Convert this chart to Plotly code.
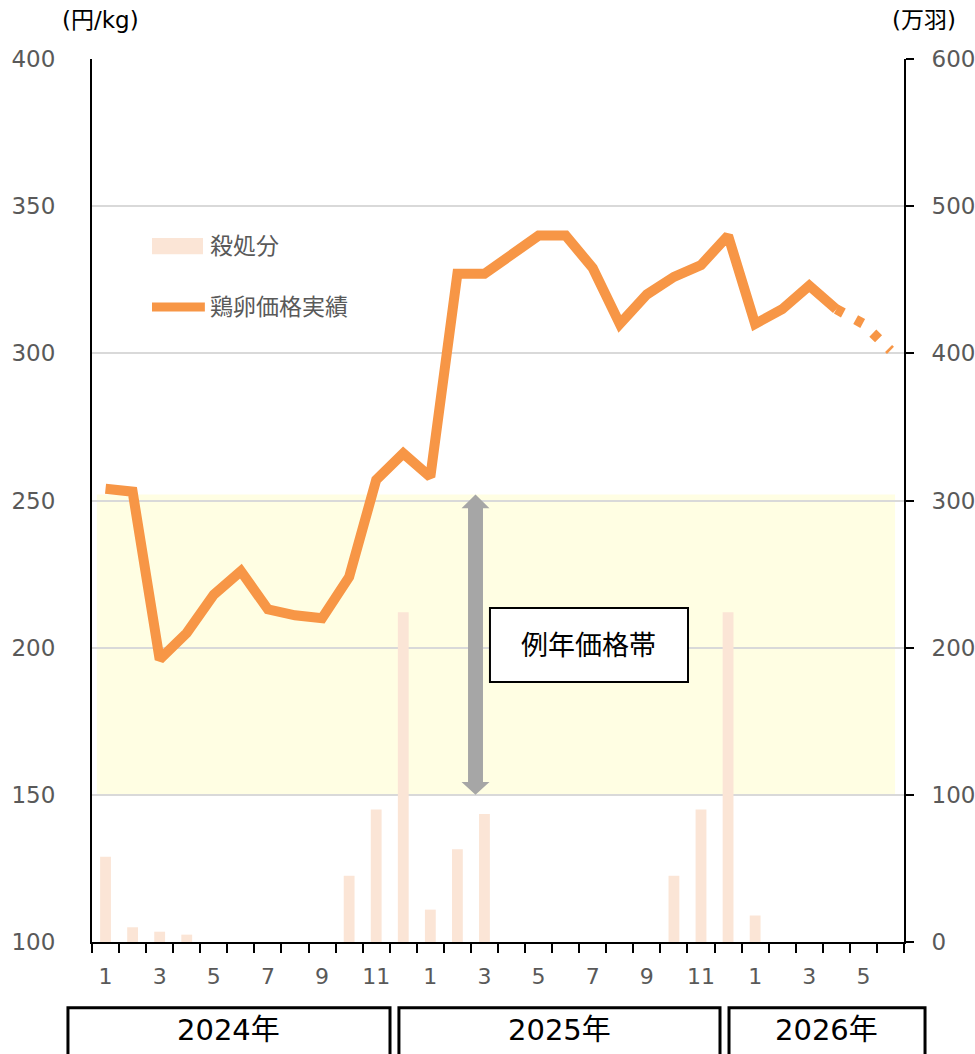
import plotly.graph_objects as go

# ---- data ----
months = [f"{y}/{m}" for y in (2024, 2025) for m in range(1, 13)] + [f"2026/{m}" for m in range(1, 7)]
month_labels = [m.split("/")[1] if int(m.split("/")[1]) % 2 == 1 else "" for m in months]

price_actual = [254, 253, 196, 205, 218, 226, 213, 211, 210, 224, 257, 266,
                258, 327, 327, 334, 340, 340, 329, 310, 320, 326, 330, 340,
                310, 315, 323, 315]
price_forecast_months = ["2026/4", "2026/5", "2026/6"]
price_forecast = [315, 310, 301]

culled = [58, 10, 7, 5, 0, 0, 0, 0, 0, 45, 90, 224,
          22, 63, 87, 0, 0, 0, 0, 0, 0, 45, 90, 224,
          18, 0, 0, 0, 0, 0]

band_low, band_high = 150, 252
years = ["2024年", "2025年", "2026年"]

ORANGE = "#F79646"
PEACH = "#FBE5D6"
GRAY_TXT = "#595959"
NUMFONT = "DejaVu Sans, Noto Sans CJK JP"
JPFONT = "DejaVu Sans, Noto Sans CJK JP"

fig = go.Figure()

fig.add_trace(go.Bar(
    x=months, y=culled, yaxis="y2", width=0.4,
    marker=dict(color=PEACH, line=dict(width=0)), name="殺処分", showlegend=False,
))
fig.add_trace(go.Scatter(
    x=months[:len(price_actual)], y=price_actual, mode="lines",
    line=dict(color=ORANGE, width=10), name="鶏卵価格実績", showlegend=False,
))
fig.add_trace(go.Scatter(
    x=price_forecast_months, y=price_forecast, mode="lines",
    line=dict(color=ORANGE, width=10, dash="8px,14px"), showlegend=False,
))

shapes = []
# yellow band
shapes.append(dict(type="rect", xref="paper", yref="y", x0=0.006, x1=0.989,
                   y0=band_low, y1=band_high, fillcolor="#FFFEE3",
                   line=dict(width=0), layer="below"))
# double arrow
cx, sw, hw = 0.4723, 0.0092, 0.0172
top_tip, top_base = band_high, 247.4
bot_tip, bot_base = band_low, 154.4
path = (f"M {cx},{top_tip} L {cx+hw},{top_base} L {cx+sw},{top_base} "
        f"L {cx+sw},{bot_base} L {cx+hw},{bot_base} L {cx},{bot_tip} "
        f"L {cx-hw},{bot_base} L {cx-sw},{bot_base} L {cx-sw},{top_base} "
        f"L {cx-hw},{top_base} Z")
shapes.append(dict(type="path", xref="paper", yref="y", path=path,
                   fillcolor="#A6A6A6", line=dict(width=0)))
# label box
shapes.append(dict(type="rect", xref="paper", yref="y", x0=0.4901, x1=0.734,
                   y0=188.3, y1=213.5, fillcolor="white",
                   line=dict(color="black", width=2)))
# legend markers
shapes.append(dict(type="rect", xref="paper", yref="y", x0=0.0739, x1=0.1367,
                   y0=333.7, y1=339.2, fillcolor=PEACH, line=dict(width=0)))
shapes.append(dict(type="line", xref="paper", yref="y", x0=0.0739, x1=0.139,
                   y0=315.7, y1=315.7, line=dict(color=ORANGE, width=9)))
# year boxes
for x0, x1 in [(-0.0296, 0.367), (0.378, 0.7734), (0.7845, 1.0259)]:
    shapes.append(dict(type="rect", xref="paper", yref="paper", x0=x0, x1=x1,
                       y0=-0.2, y1=-0.0745, line=dict(color="black", width=3)))

annotations = [
    dict(text="例年価格帯", xref="paper", yref="y", x=0.612, y=200.9,
         xanchor="center", yanchor="middle",
         showarrow=False, font=dict(size=27, color="black", family=JPFONT)),
    dict(text="殺処分", xref="paper", yref="y", x=0.1429, y=336.6,
         xanchor="left", yanchor="middle",
         showarrow=False, font=dict(size=23, color=GRAY_TXT, family=JPFONT)),
    dict(text="鶏卵価格実績", xref="paper", yref="y", x=0.1429, y=315.7,
         xanchor="left", yanchor="middle",
         showarrow=False, font=dict(size=23, color=GRAY_TXT, family=JPFONT)),
    dict(text="(円/kg)", xref="paper", yref="paper", x=0.01, y=1.044,
         xanchor="center", yanchor="middle",
         showarrow=False, font=dict(size=23, color="black", family=JPFONT)),
    dict(text="(万羽)", xref="paper", yref="paper", x=1.0246, y=1.044,
         xanchor="center", yanchor="middle",
         showarrow=False, font=dict(size=23, color="black", family=JPFONT)),
]
for txt, xc in zip(years, [0.1687, 0.5757, 0.905]):
    annotations.append(dict(text=txt, xref="paper", yref="paper", x=xc, y=-0.0997,
                            xanchor="center", yanchor="middle", showarrow=False,
                            font=dict(size=29, color="black", family=JPFONT)))

fig.update_layout(
    width=975, height=1054,
    margin=dict(l=92, r=71, t=59, b=112),
    plot_bgcolor="rgba(0,0,0,0)", paper_bgcolor="white",
    showlegend=False,
    shapes=shapes, annotations=annotations,
    xaxis=dict(type="category", categoryorder="array", categoryarray=months,
               tickmode="array", tickvals=months, ticktext=month_labels,
               tickson="boundaries", ticks="outside", ticklen=9, tickwidth=2,
               tickcolor="black", showline=True, linecolor="black", linewidth=2,
               showgrid=False, range=[-0.5, 29.5], ticklabelstandoff=14,
               tickangle=0, automargin=False,
               tickfont=dict(size=22, color=GRAY_TXT, family=NUMFONT)),
    yaxis=dict(range=[100, 400], dtick=50, tick0=100, showgrid=True,
               gridcolor="#D9D9D9", gridwidth=2, showline=True, linecolor="black",
               linewidth=2, ticks="", zeroline=False, ticklabelstandoff=30,
               automargin=False,
               tickfont=dict(size=23, color=GRAY_TXT, family=NUMFONT)),
    yaxis2=dict(range=[0, 600], dtick=100, overlaying="y", side="right",
                showgrid=False, showline=True, linecolor="black", linewidth=2,
                ticks="outside", ticklen=8, tickwidth=2, tickcolor="black",
                zeroline=False, ticklabelstandoff=13, automargin=False,
                tickfont=dict(size=23, color=GRAY_TXT, family=NUMFONT)),
)

fig.write_html("out.html")
